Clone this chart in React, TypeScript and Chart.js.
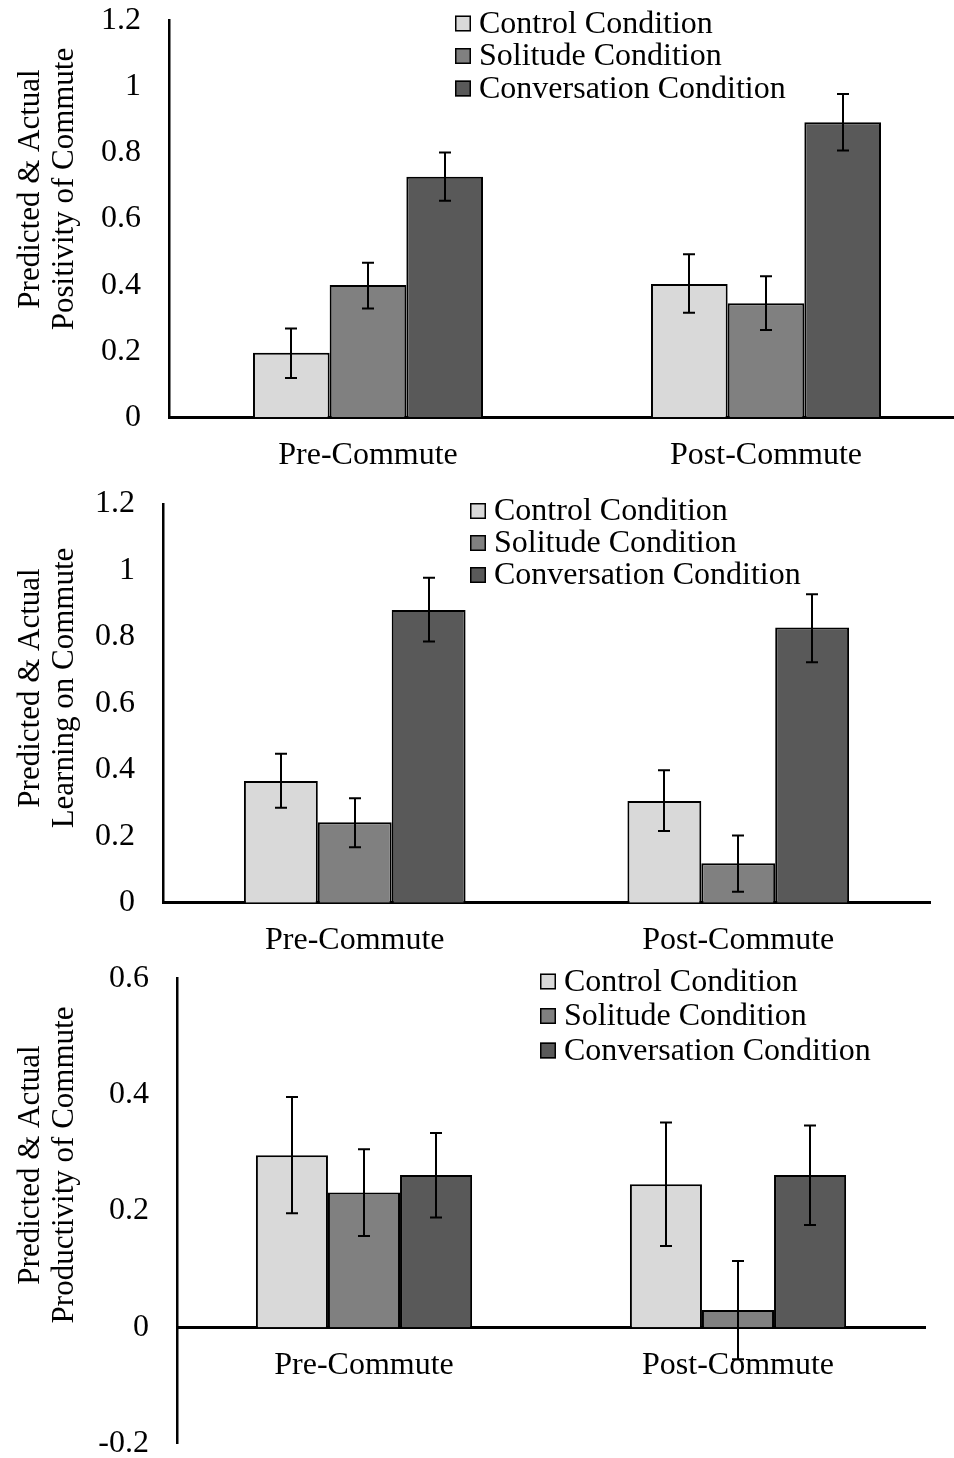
import React, { useEffect, useRef } from "react";
import { Chart, registerables } from "chart.js";
Chart.register(...registerables);

const FONT = "'Liberation Serif', 'Times New Roman', serif";

const categories = ["Pre-Commute", "Post-Commute"];
const seriesNames = ["Control Condition", "Solitude Condition", "Conversation Condition"];
const seriesColors = ["#d9d9d9", "#808080", "#595959"];

// Panel 1: Positivity of Commute
const positivityControl = [0.195, 0.403];
const positivitySolitude = [0.4, 0.345];
const positivityConversation = [0.728, 0.893];
const positivityControlErr = [[0.119, 0.269], [0.316, 0.493]];
const positivitySolitudeErr = [[0.329, 0.468], [0.264, 0.427]];
const positivityConversationErr = [[0.655, 0.801], [0.807, 0.978]];
const positivityTicks = [0, 0.2, 0.4, 0.6, 0.8, 1, 1.2];

// Panel 2: Learning on Commute
const learningControl = [0.366, 0.306];
const learningSolitude = [0.242, 0.119];
const learningConversation = [0.881, 0.828];
const learningControlErr = [[0.286, 0.448], [0.216, 0.399]];
const learningSolitudeErr = [[0.167, 0.314], [0.033, 0.202]];
const learningConversationErr = [[0.786, 0.978], [0.724, 0.928]];
const learningTicks = [0, 0.2, 0.4, 0.6, 0.8, 1, 1.2];

// Panel 3: Productivity of Commute
const productivityControl = [0.296, 0.246];
const productivitySolitude = [0.232, 0.03];
const productivityConversation = [0.262, 0.262];
const productivityControlErr = [[0.196, 0.396], [0.14, 0.352]];
const productivitySolitudeErr = [[0.157, 0.306], [-0.055, 0.114]];
const productivityConversationErr = [[0.189, 0.334], [0.176, 0.347]];
const productivityTicks = [-0.2, 0, 0.2, 0.4, 0.6];

type PanelProps = {
  top: number;
  width: number;
  height: number;
  pad: { top: number; right: number; bottom: number };
  axisLeft: number;
  xHeight: number | null;
  xAtZero: boolean;
  ticks: number[];
  values: number[][];
  errs: number[][][];
  title: string[];
  titleCenterY: number;
  legendX: number;
  legendY: number;
  legendGap: number;
};

function BarPanel(p: PanelProps) {
  const ref = useRef<HTMLCanvasElement | null>(null);
  useEffect(() => {
    if (!ref.current) return;
    const errorBars = {
      id: "errorBars",
      afterDatasetsDraw(chart: any) {
        const ctx = chart.ctx;
        const ys = chart.scales.y;
        ctx.save();
        ctx.strokeStyle = "#000";
        ctx.lineWidth = 2;
        chart.data.datasets.forEach((_: any, i: number) => {
          const meta = chart.getDatasetMeta(i);
          meta.data.forEach((bar: any, j: number) => {
            const [lo, hi] = p.errs[i][j];
            const x = Math.round(bar.x);
            const y1 = ys.getPixelForValue(lo);
            const y2 = ys.getPixelForValue(hi);
            ctx.beginPath();
            ctx.moveTo(x, y1);
            ctx.lineTo(x, y2);
            ctx.moveTo(x - 6, y1);
            ctx.lineTo(x + 6, y1);
            ctx.moveTo(x - 6, y2);
            ctx.lineTo(x + 6, y2);
            ctx.stroke();
          });
        });
        ctx.restore();
      },
    };
    const decorations = {
      id: "decorations",
      afterDraw(chart: any) {
        const ctx = chart.ctx;
        ctx.save();
        // legend
        ctx.font = `32px ${FONT}`;
        ctx.textAlign = "left";
        ctx.textBaseline = "middle";
        chart.data.datasets.forEach((ds: any, i: number) => {
          const cy = p.legendY + i * p.legendGap;
          ctx.fillStyle = ds.backgroundColor;
          ctx.fillRect(p.legendX, cy - 8, 16, 16);
          ctx.strokeStyle = "#000";
          ctx.lineWidth = 1.5;
          ctx.strokeRect(p.legendX + 0.75, cy - 7.25, 14.5, 14.5);
          ctx.fillStyle = "#000";
          ctx.fillText(ds.label, p.legendX + 24, cy + 1);
        });
        // y title
        ctx.font = `31px ${FONT}`;
        ctx.textAlign = "center";
        ctx.textBaseline = "alphabetic";
        const bases = [39, 73];
        p.title.forEach((line, k) => {
          ctx.save();
          ctx.translate(bases[k], p.titleCenterY);
          ctx.rotate(-Math.PI / 2);
          ctx.fillText(line, 0, 0);
          ctx.restore();
        });
        ctx.restore();
      },
    };
    const chart = new Chart(ref.current, {
      type: "bar",
      data: {
        labels: categories,
        datasets: seriesNames.map((name, i) => ({
          label: name,
          data: p.values[i],
          backgroundColor: seriesColors[i],
          borderColor: "#000",
          borderWidth: 2,
          barPercentage: 1,
          categoryPercentage: 0.578,
        })),
      },
      options: {
        responsive: false,
        animation: false,
        devicePixelRatio: 1,
        layout: { padding: { top: p.pad.top, right: p.pad.right, bottom: p.pad.bottom, left: 0 } },
        plugins: { legend: { display: false }, tooltip: { enabled: false } },
        scales: {
          x: {
            position: p.xAtZero ? ({ y: 0 } as any) : "bottom",
            grid: { display: false, drawTicks: false },
            border: { display: true, color: "#000", width: 3 },
            ticks: { color: "#000", font: { family: FONT, size: 32 }, padding: 19, maxRotation: 0, autoSkip: false },
            afterFit: (s: any) => {
              if (p.xHeight !== null) s.height = p.xHeight;
              s.paddingLeft = 0;
              s.paddingRight = 0;
            },
          },
          y: {
            min: p.ticks[0],
            max: p.ticks[p.ticks.length - 1],
            grid: { display: false, drawTicks: false },
            border: { display: true, color: "#000", width: 2.5 },
            ticks: {
              color: "#000",
              font: { family: FONT, size: 32 },
              padding: 28,
              callback: (v: any) => String(Math.round(Number(v) * 10) / 10),
            },
            afterBuildTicks: (s: any) => {
              s.ticks = p.ticks.map((v) => ({ value: v }));
            },
            afterFit: (s: any) => {
              s.width = p.axisLeft;
              s.paddingTop = 0;
              s.paddingBottom = 0;
            },
          },
        },
      },
      plugins: [errorBars, decorations],
    });
    return () => chart.destroy();
  }, []);
  return (
    <canvas
      ref={ref}
      width={p.width}
      height={p.height}
      style={{ position: "absolute", left: 0, top: p.top, width: p.width, height: p.height, display: "block" }}
    />
  );
}

export default function App() {
  return (
    <div style={{ position: "absolute", left: 0, top: 0, width: 954, height: 1458, overflow: "hidden", background: "#fff" }}>
      <BarPanel
        top={0}
        width={966}
        height={480}
        pad={{ top: 20.7, right: 1, bottom: 0 }}
        axisLeft={169}
        xHeight={62.7}
        xAtZero={false}
        ticks={positivityTicks}
        values={[positivityControl, positivitySolitude, positivityConversation]}
        errs={[positivityControlErr, positivitySolitudeErr, positivityConversationErr]}
        title={["Predicted & Actual", "Positivity of Commute"]}
        titleCenterY={189}
        legendX={455}
        legendY={23.5}
        legendGap={32.5}
      />
      <BarPanel
        top={480}
        width={954}
        height={480}
        pad={{ top: 24, right: 24, bottom: 0 }}
        axisLeft={163}
        xHeight={57.3}
        xAtZero={false}
        ticks={learningTicks}
        values={[learningControl, learningSolitude, learningConversation]}
        errs={[learningControlErr, learningSolitudeErr, learningConversationErr]}
        title={["Predicted & Actual", "Learning on Commute"]}
        titleCenterY={208}
        legendX={470}
        legendY={31}
        legendGap={32}
      />
      <BarPanel
        top={960}
        width={954}
        height={498}
        pad={{ top: 18.3, right: 29, bottom: 14.3 }}
        axisLeft={177}
        xHeight={null}
        xAtZero={true}
        ticks={productivityTicks}
        values={[productivityControl, productivitySolitude, productivityConversation]}
        errs={[productivityControlErr, productivitySolitudeErr, productivityConversationErr]}
        title={["Predicted & Actual", "Productivity of Commute"]}
        titleCenterY={205}
        legendX={540}
        legendY={21.5}
        legendGap={34.5}
      />
    </div>
  );
}
